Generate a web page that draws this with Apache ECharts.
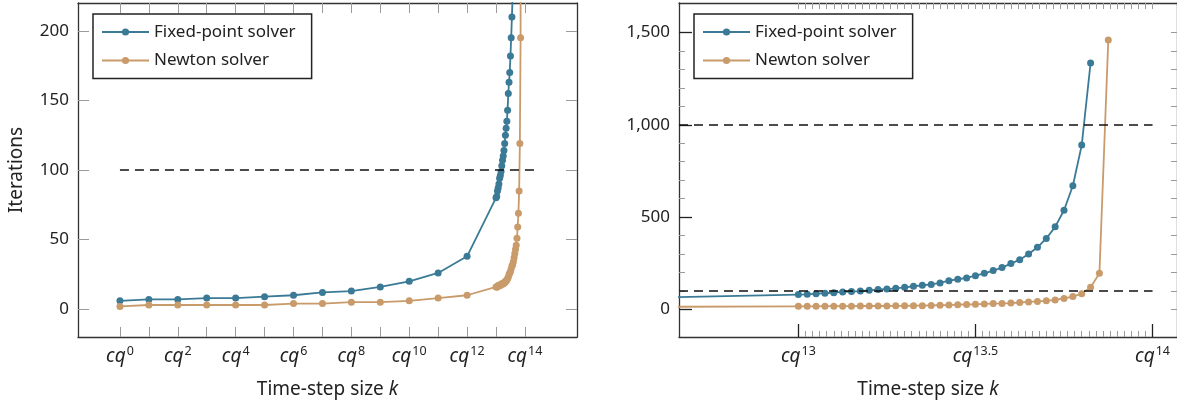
<!DOCTYPE html>
<html>
<head>
<meta charset="utf-8">
<script src="https://cdn.jsdelivr.net/npm/echarts@6/dist/echarts.min.js"></script>
<style>
  html, body { margin: 0; padding: 0; background: #fff; }
  #chart { width: 1177px; height: 405px; }
</style>
</head>
<body>
<div id="chart"></div>
<script>
// exponents of the time-step size k = c q^n, and iteration counts
const fpExp = [0, 1, 2, 3, 4, 5, 6, 7, 8, 9, 10, 11, 12,
  13, 13.025, 13.05, 13.075, 13.1, 13.125, 13.15, 13.175, 13.2, 13.225,
  13.25, 13.275, 13.3, 13.325, 13.35, 13.375, 13.4, 13.425, 13.45, 13.475,
  13.5, 13.525, 13.55, 13.575, 13.6, 13.625, 13.65, 13.675, 13.7, 13.725,
  13.75, 13.775, 13.8, 13.825];
const fpIter = [6, 7, 7, 8, 8, 9, 10, 12, 13, 16, 20, 26, 38,
  80, 81, 85, 87, 90, 94, 96, 99, 103, 107,
  110, 114, 119, 125, 130, 135, 143, 155, 163, 170,
  182, 195, 210, 226, 248, 269, 300, 336, 384, 447,
  537, 670, 890, 1335];

const newtonExp = [0, 1, 2, 3, 4, 5, 6, 7, 8, 9, 10, 11, 12,
  13, 13.025, 13.05, 13.075, 13.1, 13.125, 13.15, 13.175, 13.2, 13.225,
  13.25, 13.275, 13.3, 13.325, 13.35, 13.375, 13.4, 13.425, 13.45, 13.475,
  13.5, 13.525, 13.55, 13.575, 13.6, 13.625, 13.65, 13.675, 13.7, 13.725,
  13.75, 13.775, 13.8, 13.825, 13.85, 13.875];
const newtonIter = [2, 3, 3, 3, 3, 3, 4, 4, 5, 5, 6, 8, 10,
  16, 16, 16, 17, 17, 17, 17, 18, 18, 18,
  18, 19, 19, 20, 20, 21, 22, 23, 25, 26,
  27, 29, 31, 32, 34, 37, 40, 43, 46, 51,
  59, 69, 85, 119, 195, 1460];

// ticks and labels
const leftXTicks = [0, 1, 2, 3, 4, 5, 6, 7, 8, 9, 10, 11, 12, 13, 14];
const leftXLabels = [0, 2, 4, 6, 8, 10, 12, 14];
const leftYTicks = [0, 50, 100, 150, 200];
const rightXLabels = [13, 13.5, 14];
const rightYMajor = [0, 500, 1000, 1500];
const rightYMinor = [100, 200, 300, 400, 600, 700, 800, 900, 1100, 1200, 1300, 1400];
const rightYAll = [0, 100, 200, 300, 400, 500, 600, 700, 800, 900, 1000, 1100, 1200, 1300, 1400, 1500];

// dashed reference levels
const leftRefLevels = [100];
const leftRefSpan = [0, 14.5];
const rightRefLevels = [100, 1000];
const rightRefSpan = [12.663, 14];

const seriesNames = ['Fixed-point solver', 'Newton solver'];

// minor ticks of the zoomed axis, every 0.02 between cq^13 and cq^14
const rightXMinor = [];
const rightXAllMinor = [];
for (let i = 0; i <= 50; i++) {
  const v = +(13 + i / 50).toFixed(2);
  rightXAllMinor.push(v);
  if (i % 25 !== 0) rightXMinor.push(v);
}

const FONT = '"Noto Sans", "DejaVu Sans", sans-serif';
const BLUE = '#3b7a96';
const TAN = '#c99b6b';
const TXT = '#222';
const AXLINE = { color: '#333', width: 1.3 };
const GREY_TICK = { color: '#9a9a9a', width: 1 };
const DARK_TICK = { color: '#222', width: 1.3 };

const zip = (xs, ys) => xs.map((x, i) => [x, ys[i]]);

const cqRich = {
  a: { fontFamily: FONT, fontStyle: 'italic', fontSize: 19, color: TXT },
  b: { fontFamily: FONT, fontSize: 12.5, color: TXT, padding: [0, 0, 10, 1] }
};
const cqLabel = (v) => '{a|cq}{b|' + v + '}';

const xName = '{n|Time-step size }{k|k}';
const xNameStyle = {
  rich: {
    n: { fontFamily: FONT, fontSize: 19, color: TXT },
    k: { fontFamily: FONT, fontSize: 19, fontStyle: 'italic', color: TXT }
  }
};

const noSplit = { show: false };

function refLine(levels, span) {
  return {
    silent: true,
    symbol: ['none', 'none'],
    label: { show: false },
    lineStyle: { color: '#111', type: [9, 6], width: 1.6 },
    data: levels.map((l) => [{ coord: [span[0], l] }, { coord: [span[1], l] }])
  };
}

function line(name, color, xi, yi, data, mark) {
  const s = {
    name: name,
    type: 'line',
    xAxisIndex: xi,
    yAxisIndex: yi,
    data: data,
    symbol: 'circle',
    symbolSize: 7,
    lineStyle: { color: color, width: 1.8 },
    itemStyle: { color: color },
    clip: true
  };
  if (mark) s.markLine = mark;
  return s;
}

function legend(left) {
  return {
    left: left,
    top: 14,
    orient: 'vertical',
    data: seriesNames,
    itemWidth: 47,
    itemHeight: 9,
    itemGap: 8.5,
    padding: [8, 16, 8, 8],
    borderColor: '#222',
    borderWidth: 1.5,
    borderRadius: 0,
    backgroundColor: '#fff',
    selectedMode: false,
    textStyle: { fontFamily: FONT, fontSize: 17, color: TXT, lineHeight: 20 },
    z: 10
  };
}

const chart = echarts.init(document.getElementById('chart'));

chart.setOption({
  animation: false,
  backgroundColor: '#fff',
  textStyle: { fontFamily: FONT },
  grid: [
    { left: 78, top: 3, width: 499, height: 334 },
    { left: 679, top: 3, width: 499, height: 334 }
  ],
  legend: [legend(93), legend(694)],
  xAxis: [
    // left chart, bottom
    {
      gridIndex: 0, type: 'value', position: 'bottom', min: -1.45, max: 15.8,
      axisLine: { show: true, onZero: false, lineStyle: AXLINE },
      axisTick: { show: true, inside: true, length: 10, customValues: leftXTicks, lineStyle: GREY_TICK },
      axisLabel: { show: true, customValues: leftXLabels, formatter: cqLabel, rich: cqRich, margin: 8 },
      splitLine: noSplit,
      name: xName, nameLocation: 'middle', nameGap: 43, nameTextStyle: xNameStyle
    },
    // left chart, top
    {
      gridIndex: 0, type: 'value', position: 'top', min: -1.45, max: 15.8,
      axisLine: { show: true, onZero: false, lineStyle: AXLINE },
      axisTick: { show: true, inside: true, length: 10, customValues: leftXTicks, lineStyle: GREY_TICK },
      axisLabel: { show: false },
      splitLine: noSplit
    },
    // right chart, bottom (major)
    {
      gridIndex: 1, type: 'value', position: 'bottom', min: 12.663, max: 14.069,
      axisLine: { show: true, onZero: false, lineStyle: AXLINE },
      axisTick: { show: true, inside: true, length: 13, customValues: rightXLabels, lineStyle: DARK_TICK },
      axisLabel: { show: true, customValues: rightXLabels, formatter: cqLabel, rich: cqRich, margin: 8 },
      splitLine: noSplit,
      name: xName, nameLocation: 'middle', nameGap: 43, nameTextStyle: xNameStyle
    },
    // right chart, bottom (minor)
    {
      gridIndex: 1, type: 'value', position: 'bottom', min: 12.663, max: 14.069,
      axisLine: { show: false, onZero: false },
      axisTick: { show: true, inside: true, length: 6, customValues: rightXMinor, lineStyle: GREY_TICK },
      axisLabel: { show: false },
      splitLine: noSplit
    },
    // right chart, top
    {
      gridIndex: 1, type: 'value', position: 'top', min: 12.663, max: 14.069,
      axisLine: { show: true, onZero: false, lineStyle: AXLINE },
      axisTick: { show: true, inside: true, length: 6, customValues: rightXAllMinor, lineStyle: GREY_TICK },
      axisLabel: { show: false },
      splitLine: noSplit
    }
  ],
  yAxis: [
    // left chart, left
    {
      gridIndex: 0, type: 'value', position: 'left', min: -20, max: 220,
      axisLine: { show: true, onZero: false, lineStyle: AXLINE },
      axisTick: { show: true, inside: true, length: 11, customValues: leftYTicks, lineStyle: GREY_TICK },
      axisLabel: { show: true, customValues: leftYTicks, fontFamily: FONT, fontSize: 17, color: TXT, margin: 9 },
      splitLine: noSplit,
      name: 'Iterations', nameLocation: 'middle', nameGap: 52,
      nameTextStyle: { fontFamily: FONT, fontSize: 19, color: TXT }
    },
    // left chart, right
    {
      gridIndex: 0, type: 'value', position: 'right', min: -20, max: 220,
      axisLine: { show: true, onZero: false, lineStyle: AXLINE },
      axisTick: { show: true, inside: true, length: 11, customValues: leftYTicks, lineStyle: GREY_TICK },
      axisLabel: { show: false },
      splitLine: noSplit
    },
    // right chart, left (major)
    {
      gridIndex: 1, type: 'value', position: 'left', min: -150, max: 1660,
      axisLine: { show: true, onZero: false, lineStyle: AXLINE },
      axisTick: { show: true, inside: true, length: 13, customValues: rightYMajor, lineStyle: DARK_TICK },
      axisLabel: {
        show: true, customValues: rightYMajor, fontFamily: FONT, fontSize: 17, color: TXT, margin: 9,
        formatter: (v) => v.toLocaleString('en-US')
      },
      splitLine: noSplit
    },
    // right chart, left (minor)
    {
      gridIndex: 1, type: 'value', position: 'left', min: -150, max: 1660,
      axisLine: { show: false, onZero: false },
      axisTick: { show: true, inside: true, length: 6, customValues: rightYMinor, lineStyle: GREY_TICK },
      axisLabel: { show: false },
      splitLine: noSplit
    },
    // right chart, right
    {
      gridIndex: 1, type: 'value', position: 'right', min: -150, max: 1660,
      axisLine: { show: true, onZero: false, lineStyle: AXLINE },
      axisTick: { show: true, inside: true, length: 6, customValues: rightYAll, lineStyle: GREY_TICK },
      axisLabel: { show: false },
      splitLine: noSplit
    }
  ],
  series: [
    line(seriesNames[0], BLUE, 0, 0, zip(fpExp, fpIter), refLine(leftRefLevels, leftRefSpan)),
    line(seriesNames[1], TAN, 0, 0, zip(newtonExp, newtonIter)),
    line(seriesNames[0], BLUE, 2, 2, zip(fpExp, fpIter), refLine(rightRefLevels, rightRefSpan)),
    line(seriesNames[1], TAN, 2, 2, zip(newtonExp, newtonIter))
  ]
});

window.addEventListener('resize', chart.resize);
</script>
</body>
</html>
